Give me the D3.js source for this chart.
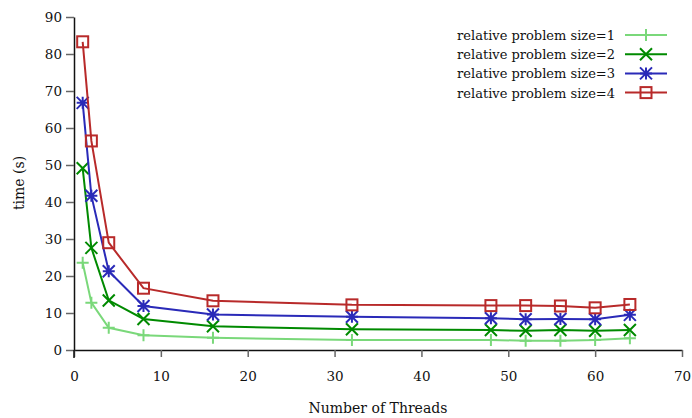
<!DOCTYPE html>
<html><head><meta charset="utf-8">
<script src="https://cdn.jsdelivr.net/npm/d3@7"></script>
<style>body{margin:0;background:#fff}svg{display:block}text{font-family:"DejaVu Serif",serif;fill:#111}</style>
</head><body><svg id="c" width="692" height="418"></svg>
<script>
const threads = [1, 2, 4, 8, 16, 32, 48, 52, 56, 60, 64];
const size1 = [23.6, 12.8, 6.0, 4.0, 3.3, 2.7, 2.7, 2.5, 2.5, 2.7, 3.2];
const size2 = [49.1, 27.6, 13.4, 8.4, 6.4, 5.6, 5.4, 5.2, 5.4, 5.2, 5.4];
const size3 = [66.8, 41.7, 21.3, 11.9, 9.6, 9.0, 8.6, 8.3, 8.4, 8.3, 9.5];
const size4 = [83.3, 56.5, 29.0, 16.7, 13.3, 12.2, 12.0, 12.0, 11.9, 11.4, 12.3];
const seriesNames = ["relative problem size=1","relative problem size=2","relative problem size=3","relative problem size=4"];
const xTicks = [0,10,20,30,40,50,60,70];
const yTicks = [0,10,20,30,40,50,60,70,80,90];

const colors = ["#7ad87a","#008a00","#2a2ab8","#b82a2a"];
const markers = ["plus","cross","star","square"];
const all = [size1,size2,size3,size4];

const svg = d3.select("#c");
const x = d3.scaleLinear().domain([0,70]).range([74,682]);
const y = d3.scaleLinear().domain([0,90]).range([350,17]);
const FS = "13px";

const xa = svg.append("g").attr("transform","translate(0,350)")
  .call(d3.axisBottom(x).tickValues(xTicks).tickSize(7).tickPadding(14).tickSizeOuter(0));
const ya = svg.append("g").attr("transform","translate(74,0)")
  .call(d3.axisLeft(y).tickValues(yTicks).tickSize(8).tickPadding(4).tickSizeOuter(0));
[xa,ya].forEach(g=>{
  g.attr("font-family",null);
  g.select(".domain").attr("stroke","#111").attr("stroke-width",1.5);
  g.selectAll(".tick line").attr("stroke","#666").attr("stroke-width",1.5);
  g.selectAll(".tick text").style("font-size","13.5px").attr("fill","#111");
});
svg.append("line").attr("x1",74).attr("x2",74).attr("y1",350).attr("y2",358).attr("stroke","#111").attr("stroke-width",1.5);

svg.append("text").attr("transform","translate(24,183) rotate(-90)").attr("text-anchor","middle").style("font-size","14px").text("time (s)");
svg.append("text").attr("x",378).attr("y",413).attr("text-anchor","middle").style("font-size","14px").text("Number of Threads");

function marker(g, type, cx, cy, color){
  const s = 6;
  if(type==="plus"){
    g.append("path").attr("d",`M${cx-s},${cy}H${cx+s}M${cx},${cy-s}V${cy+s}`).attr("stroke",color).attr("stroke-width",2).attr("fill","none");
  } else if(type==="cross"){
    g.append("path").attr("d",`M${cx-s},${cy-s}L${cx+s},${cy+s}M${cx-s},${cy+s}L${cx+s},${cy-s}`).attr("stroke",color).attr("stroke-width",2).attr("fill","none");
  } else if(type==="star"){
    g.append("path").attr("d",`M${cx-s},${cy}H${cx+s}M${cx},${cy-s}V${cy+s}M${cx-s},${cy-s}L${cx+s},${cy+s}M${cx-s},${cy+s}L${cx+s},${cy-s}`).attr("stroke",color).attr("stroke-width",2).attr("fill","none");
  } else {
    g.append("rect").attr("x",cx-5.5).attr("y",cy-5.5).attr("width",11).attr("height",11).attr("stroke",color).attr("stroke-width",2).attr("fill","none");
  }
}

const line = d3.line().x(d=>x(d[0])).y(d=>y(d[1]));
all.forEach((vals,i)=>{
  const pts = threads.map((t,j)=>[t,vals[j]]);
  const g = svg.append("g");
  g.append("path").attr("d",line(pts)).attr("stroke",colors[i]).attr("stroke-width",2).attr("fill","none");
  pts.forEach(p=>marker(g, markers[i], x(p[0]), y(p[1]), colors[i]));
});

seriesNames.forEach((name,i)=>{
  const ly = 35 + i*19.2;
  const g = svg.append("g");
  g.append("text").attr("x",615).attr("y",ly+5).attr("text-anchor","end").style("font-size",FS).text(name);
  g.append("line").attr("x1",625).attr("x2",667).attr("y1",ly).attr("y2",ly).attr("stroke",colors[i]).attr("stroke-width",2);
  marker(g, markers[i], 646, ly, colors[i]);
});
</script></body></html>
